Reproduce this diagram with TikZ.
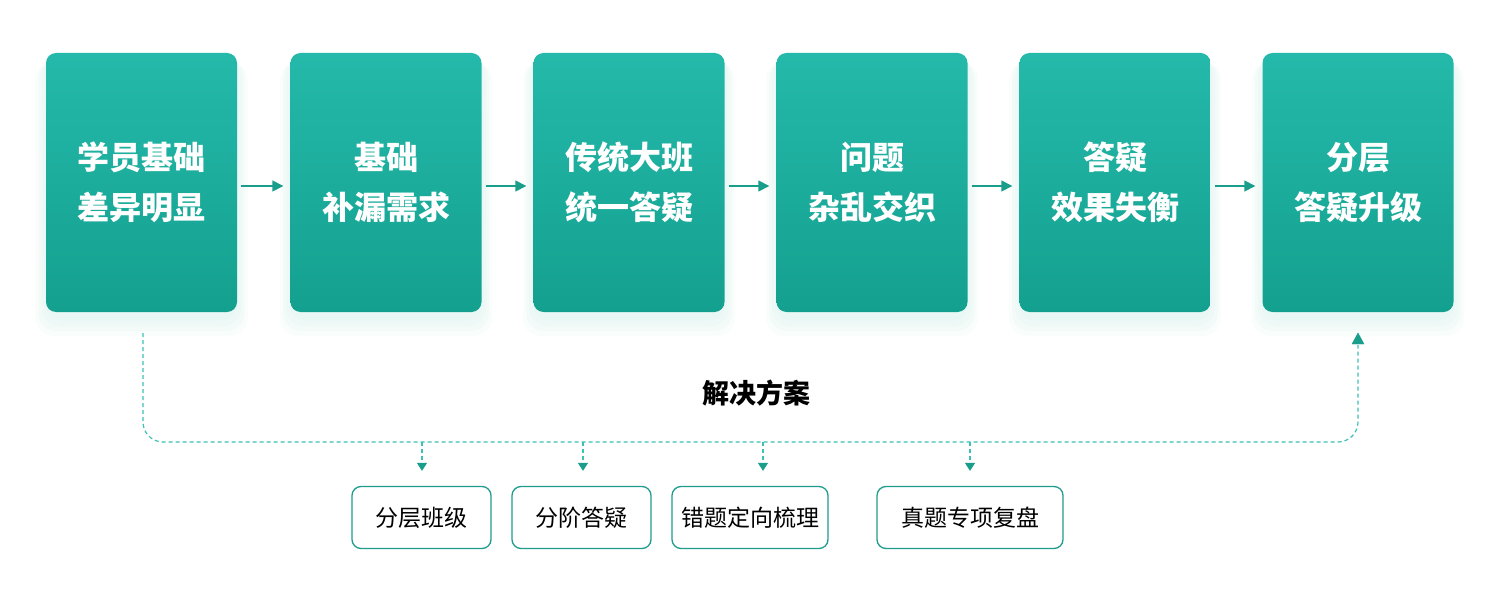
\documentclass[tikz,border=0pt]{standalone}
\usepackage{fontspec}
\setmainfont{Noto Sans CJK SC}
\newfontfamily\cjk{Noto Sans CJK SC}
\usetikzlibrary{arrows.meta}
\definecolor{tealtop}{HTML}{24B9AA}
\definecolor{tealbot}{HTML}{14A08F}
\definecolor{arrcol}{HTML}{1A9E8C}
\definecolor{dashcol}{HTML}{3CC1B4}
\definecolor{smallborder}{HTML}{1F9C8C}
\definecolor{glow}{HTML}{BDEDE4}
\tikzset{
  x=1pt,y=-1pt,
  bigbox/.style={rounded corners=10pt, minimum width=191pt, minimum height=259pt,
    top color=tealtop, bottom color=tealbot, draw=none,
    text=white, align=center, font=\cjk\bfseries\fontsize{32}{50}\selectfont, inner sep=0pt},
  flowarr/.style={draw=arrcol, line width=1.6pt, -{Triangle[length=11pt,width=11pt]}, shorten <=4pt, shorten >=7pt},
  dashline/.style={draw=dashcol, line width=1.2pt, dash pattern=on 4pt off 3pt, rounded corners=20pt},
  droparr/.style={draw=dashcol, line width=1.2pt, dash pattern=on 4pt off 3pt, -{Triangle[length=8pt,width=10pt,color=arrcol,fill=arrcol]}, shorten >=15pt},
  smallbox/.style={rounded corners=9pt, draw=smallborder, line width=1.3pt, fill=white,
    minimum height=62pt, text=black, font=\cjk\fontsize{23}{28}\selectfont, inner sep=0pt},
  lbl/.style={text=black, font=\cjk\bfseries\fontsize{27}{32}\selectfont},
  glowlayer/.style={fill=glow, opacity=0.09, rounded corners=18pt}
}
\begin{document}
\begin{tikzpicture}
\useasboundingbox[fill=white] (0,0) rectangle (1504,596);
% soft glow under boxes
\foreach \cx in {141.5,386,629,872,1115,1358} {
  \fill[glowlayer] (\cx-106,62) rectangle (\cx+106,336);
  \fill[glowlayer] (\cx-103,60) rectangle (\cx+103,331);
  \fill[glowlayer] (\cx-100,58) rectangle (\cx+100,326);
  \fill[glowlayer] (\cx-97,56) rectangle (\cx+97,321);
}
% main boxes
\node[bigbox] (b1) at (141.5,182.5) {学员基础\\差异明显};
\node[bigbox] (b2) at (386,182.5) {基础\\补漏需求};
\node[bigbox] (b3) at (629,182.5) {传统大班\\统一答疑};
\node[bigbox] (b4) at (872,182.5) {问题\\杂乱交织};
\node[bigbox] (b5) at (1115,182.5) {答疑\\效果失衡};
\node[bigbox] (b6) at (1358,182.5) {分层\\答疑升级};
% flow arrows
\foreach \a/\b in {b1/b2,b2/b3,b3/b4,b4/b5,b5/b6}
  \draw[flowarr] ([yshift=-3.5pt]\a.east) -- ([yshift=-3.5pt]\b.west);
% label
\node[lbl] (sol) at (756,393) {解决方案};
% small boxes
\node[smallbox, minimum width=139pt] (s1) at (421.5,517.5) {分层班级};
\node[smallbox, minimum width=139pt] (s2) at (581.5,517.5) {分阶答疑};
\node[smallbox, minimum width=156pt] (s3) at (750,517.5) {错题定向梳理};
\node[smallbox, minimum width=186pt] (s4) at (970,517.5) {真题专项复盘};
% dashed loop
\coordinate (ds) at (143,333);
\coordinate (de) at (1358,345);
\draw[dashline] (ds) -- (143,442) -- (1358,442) -- (de);
\draw[draw=arrcol, fill=arrcol] (1358,333) -- (1352,344) -- (1364,344) -- cycle;
% drops
\coordinate (d1) at (422,442);
\coordinate (d2) at (583,442);
\coordinate (d3) at (763,442);
\coordinate (d4) at (970,442);
\draw[droparr] (d1) -- (d1 |- s1.north);
\draw[droparr] (d2) -- (d2 |- s2.north);
\draw[droparr] (d3) -- (d3 |- s3.north);
\draw[droparr] (d4) -- (d4 |- s4.north);
\end{tikzpicture}
\end{document}
